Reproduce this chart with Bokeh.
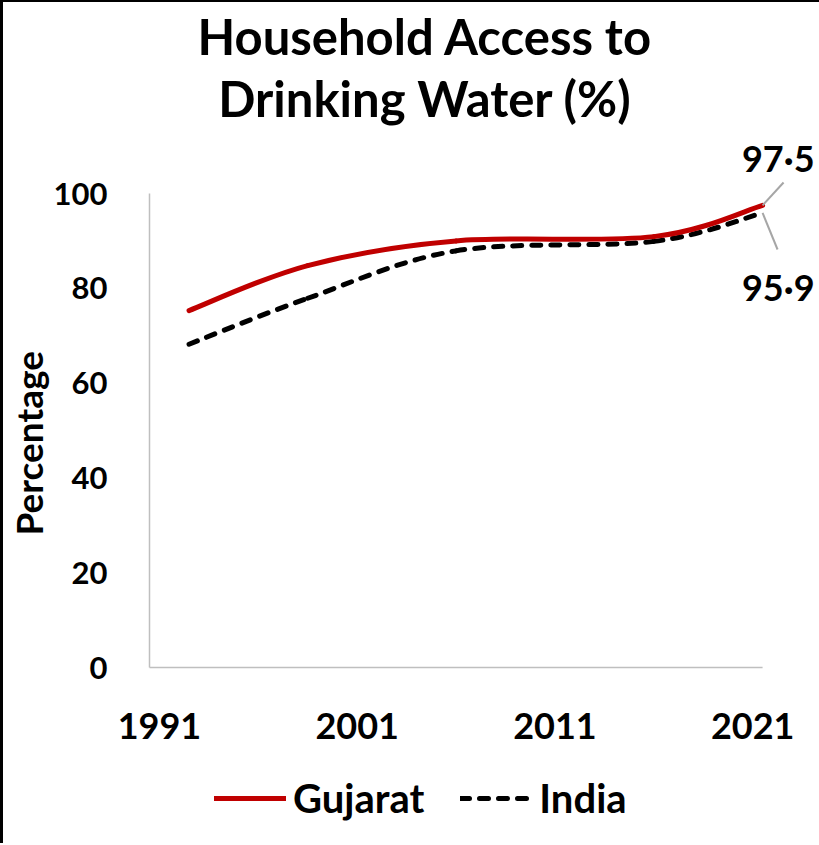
from bokeh.plotting import figure
from bokeh.layouts import column
from bokeh.models import Range1d, FixedTicker, Label, Legend, LegendItem, Title
from bokeh.embed import file_html
from bokeh.resources import INLINE

# ---------------- data ----------------
survey_years = [1992.5, 1998.5, 2006, 2016, 2021.5]
gujarat = [75.3, 84.8, 90.0, 90.9, 97.5]
india = [68.2, 77.9, 87.9, 89.9, 95.9]
x_ticks = [1991, 2001, 2011, 2021]
y_ticks = [0, 20, 40, 60, 80, 100]
axis_x = [1990.5, 2021.5]
axis_y = [0, 100]
series_names = ["Gujarat", "India"]
end_labels = ["97·5", "95·9"]
title_lines = ["Household Access to", "Drinking Water (%)"]
y_title = "Percentage"

FONT = "Lato"
RED = "#C00000"
GREY = "#BFBFBF"

# ---------------- geometry (page pixels) ----------------
OX, OY = 3, 2              # content origin on the page (inside the black border)
W = 816
H = 765                    # main chart
H2 = 76                    # legend strip below it
AL, AR, AT, AB = 148, 762, 193, 667   # where the plotted axes sit on the page
PPX = (AR - AL) / (axis_x[1] - axis_x[0])
PPY = (AB - AT) / (axis_y[1] - axis_y[0])
FL = 146                   # frame left (a little left of the y axis line)
FB = 670                   # frame bottom (a little under the x axis line)
TITLE_FS, END_FS = 49, 36
BASE_SHIFT = 0.42          # measured: rendered baseline sits this many em below y


def px2x(px):
    return axis_x[0] + (px - AL) / PPX


def py2y(py):
    return axis_y[0] + (AB - py) / PPY


p = figure(width=W, height=H, output_backend="svg", toolbar_location=None,
           x_range=Range1d(px2x(FL), px2x(OX + W)),
           y_range=Range1d(py2y(FB), py2y(OY)),
           min_border_left=FL - OX, min_border_right=0,
           min_border_top=0, min_border_bottom=H - (FB - OY))
p.outline_line_color = None
p.xgrid.grid_line_color = None
p.ygrid.grid_line_color = None
p.background_fill_color = "white"
p.border_fill_color = "white"

for ax in (p.xaxis[0], p.yaxis[0]):
    ax.axis_line_color = None
    ax.major_tick_line_color = None
    ax.minor_tick_line_color = None
    ax.major_label_text_font = FONT
    ax.major_label_text_font_style = "bold"
    ax.major_label_text_color = "black"

p.xaxis.ticker = FixedTicker(ticks=x_ticks)
p.xaxis.major_label_text_font_size = "36px"
p.xaxis.major_label_standoff = 36
p.yaxis.ticker = FixedTicker(ticks=y_ticks)
p.yaxis.major_label_text_font_size = "31px"
p.yaxis.major_label_standoff = 34

# y-axis title, anchored near the bottom of the axis like the original
p.add_layout(Title(text=y_title, align="left", offset=FB - 535, standoff=0,
                   text_font=FONT, text_font_style="bold", text_font_size="37px",
                   text_color="black"), "left")

# axis lines (only over the data extent, as in the original)
p.segment(x0=[axis_x[0], axis_x[0]], y0=[axis_y[0], axis_y[0]],
          x1=[axis_x[0], axis_x[1]], y1=[axis_y[1], axis_y[0]],
          line_color=GREY, line_width=1.5)


def bezier_parts(xs, ys):
    n = len(xs)
    out = {k: [] for k in ("x0", "y0", "x1", "y1", "cx0", "cy0", "cx1", "cy1")}
    for i in range(n - 1):
        a = max(i - 1, 0)
        d = min(i + 2, n - 1)
        out["x0"].append(xs[i]); out["y0"].append(ys[i])
        out["x1"].append(xs[i + 1]); out["y1"].append(ys[i + 1])
        out["cx0"].append(xs[i] + (xs[i + 1] - xs[a]) / 6)
        out["cy0"].append(ys[i] + (ys[i + 1] - ys[a]) / 6)
        out["cx1"].append(xs[i + 1] - (xs[d] - xs[i]) / 6)
        out["cy1"].append(ys[i + 1] - (ys[d] - ys[i]) / 6)
    return out


IND_STYLE = dict(line_color="black", line_width=5, line_dash="9 10", line_cap="round")
GUJ_STYLE = dict(line_color=RED, line_width=5, line_cap="round")
p.bezier(**bezier_parts(survey_years, india), **IND_STYLE)
p.bezier(**bezier_parts(survey_years, gujarat), **GUJ_STYLE)

# title
for line, base in zip(title_lines, [56, 118]):
    p.add_layout(Label(x=px2x(424), y=py2y(base - BASE_SHIFT * TITLE_FS), text=line,
                       text_align="center", text_baseline="alphabetic",
                       text_font=FONT, text_font_style="bold",
                       text_font_size=f"{TITLE_FS}px", text_color="black"))

# end labels and leader lines
for txt, base in zip(end_labels, [173, 302]):
    p.add_layout(Label(x=px2x(814), y=py2y(base - BASE_SHIFT * END_FS), text=txt,
                       text_align="right", text_baseline="alphabetic",
                       text_font=FONT, text_font_style="bold",
                       text_font_size=f"{END_FS}px", text_color="black"))
p.segment(x0=[survey_years[-1], survey_years[-1]], y0=[gujarat[-1], india[-1]],
          x1=[px2x(783), px2x(777)], y1=[py2y(182), py2y(249)],
          line_color="#A6A6A6", line_width=2)

# ---------------- legend strip ----------------
# the series are drawn again here but lie outside this strip's visible range;
# they only give the legend its glyphs.  Its frame is aligned with the chart's.
p2 = figure(width=W, height=H2, output_backend="svg", toolbar_location=None,
            x_axis_type=None, y_axis_type=None, x_range=Range1d(0, W),
            y_range=Range1d(0, H2), min_border_left=0, min_border_right=0,
            min_border_top=0, min_border_bottom=0)
p2.outline_line_color = None
p2.xgrid.grid_line_color = None
p2.ygrid.grid_line_color = None
p2.background_fill_color = "white"
p2.border_fill_color = "white"
lg_guj = p2.bezier(**bezier_parts(survey_years, gujarat), **GUJ_STYLE)
lg_ind = p2.bezier(**bezier_parts(survey_years, india), **IND_STYLE)
ITEM_H = 44
strip_bottom = OY + H + H2
legend = Legend(items=[LegendItem(label=series_names[0], renderers=[lg_guj]),
                       LegendItem(label=series_names[1], renderers=[lg_ind])],
                orientation="horizontal",
                location=(213 - FL, strip_bottom - (800 + ITEM_H / 2)),
                margin=0, padding=0, spacing=36, glyph_width=72,
                glyph_height=ITEM_H, label_height=ITEM_H, label_standoff=7,
                label_text_font=FONT, label_text_font_style="bold",
                label_text_font_size="40px", label_text_color="black",
                border_line_color=None, background_fill_alpha=0)
p2.add_layout(legend, "center")

layout = column(p, p2, styles={"border-left": "3px solid black",
                               "border-top": "2px solid black",
                               "overflow": "visible"})
open("out.html", "w").write(file_html(layout, INLINE))
